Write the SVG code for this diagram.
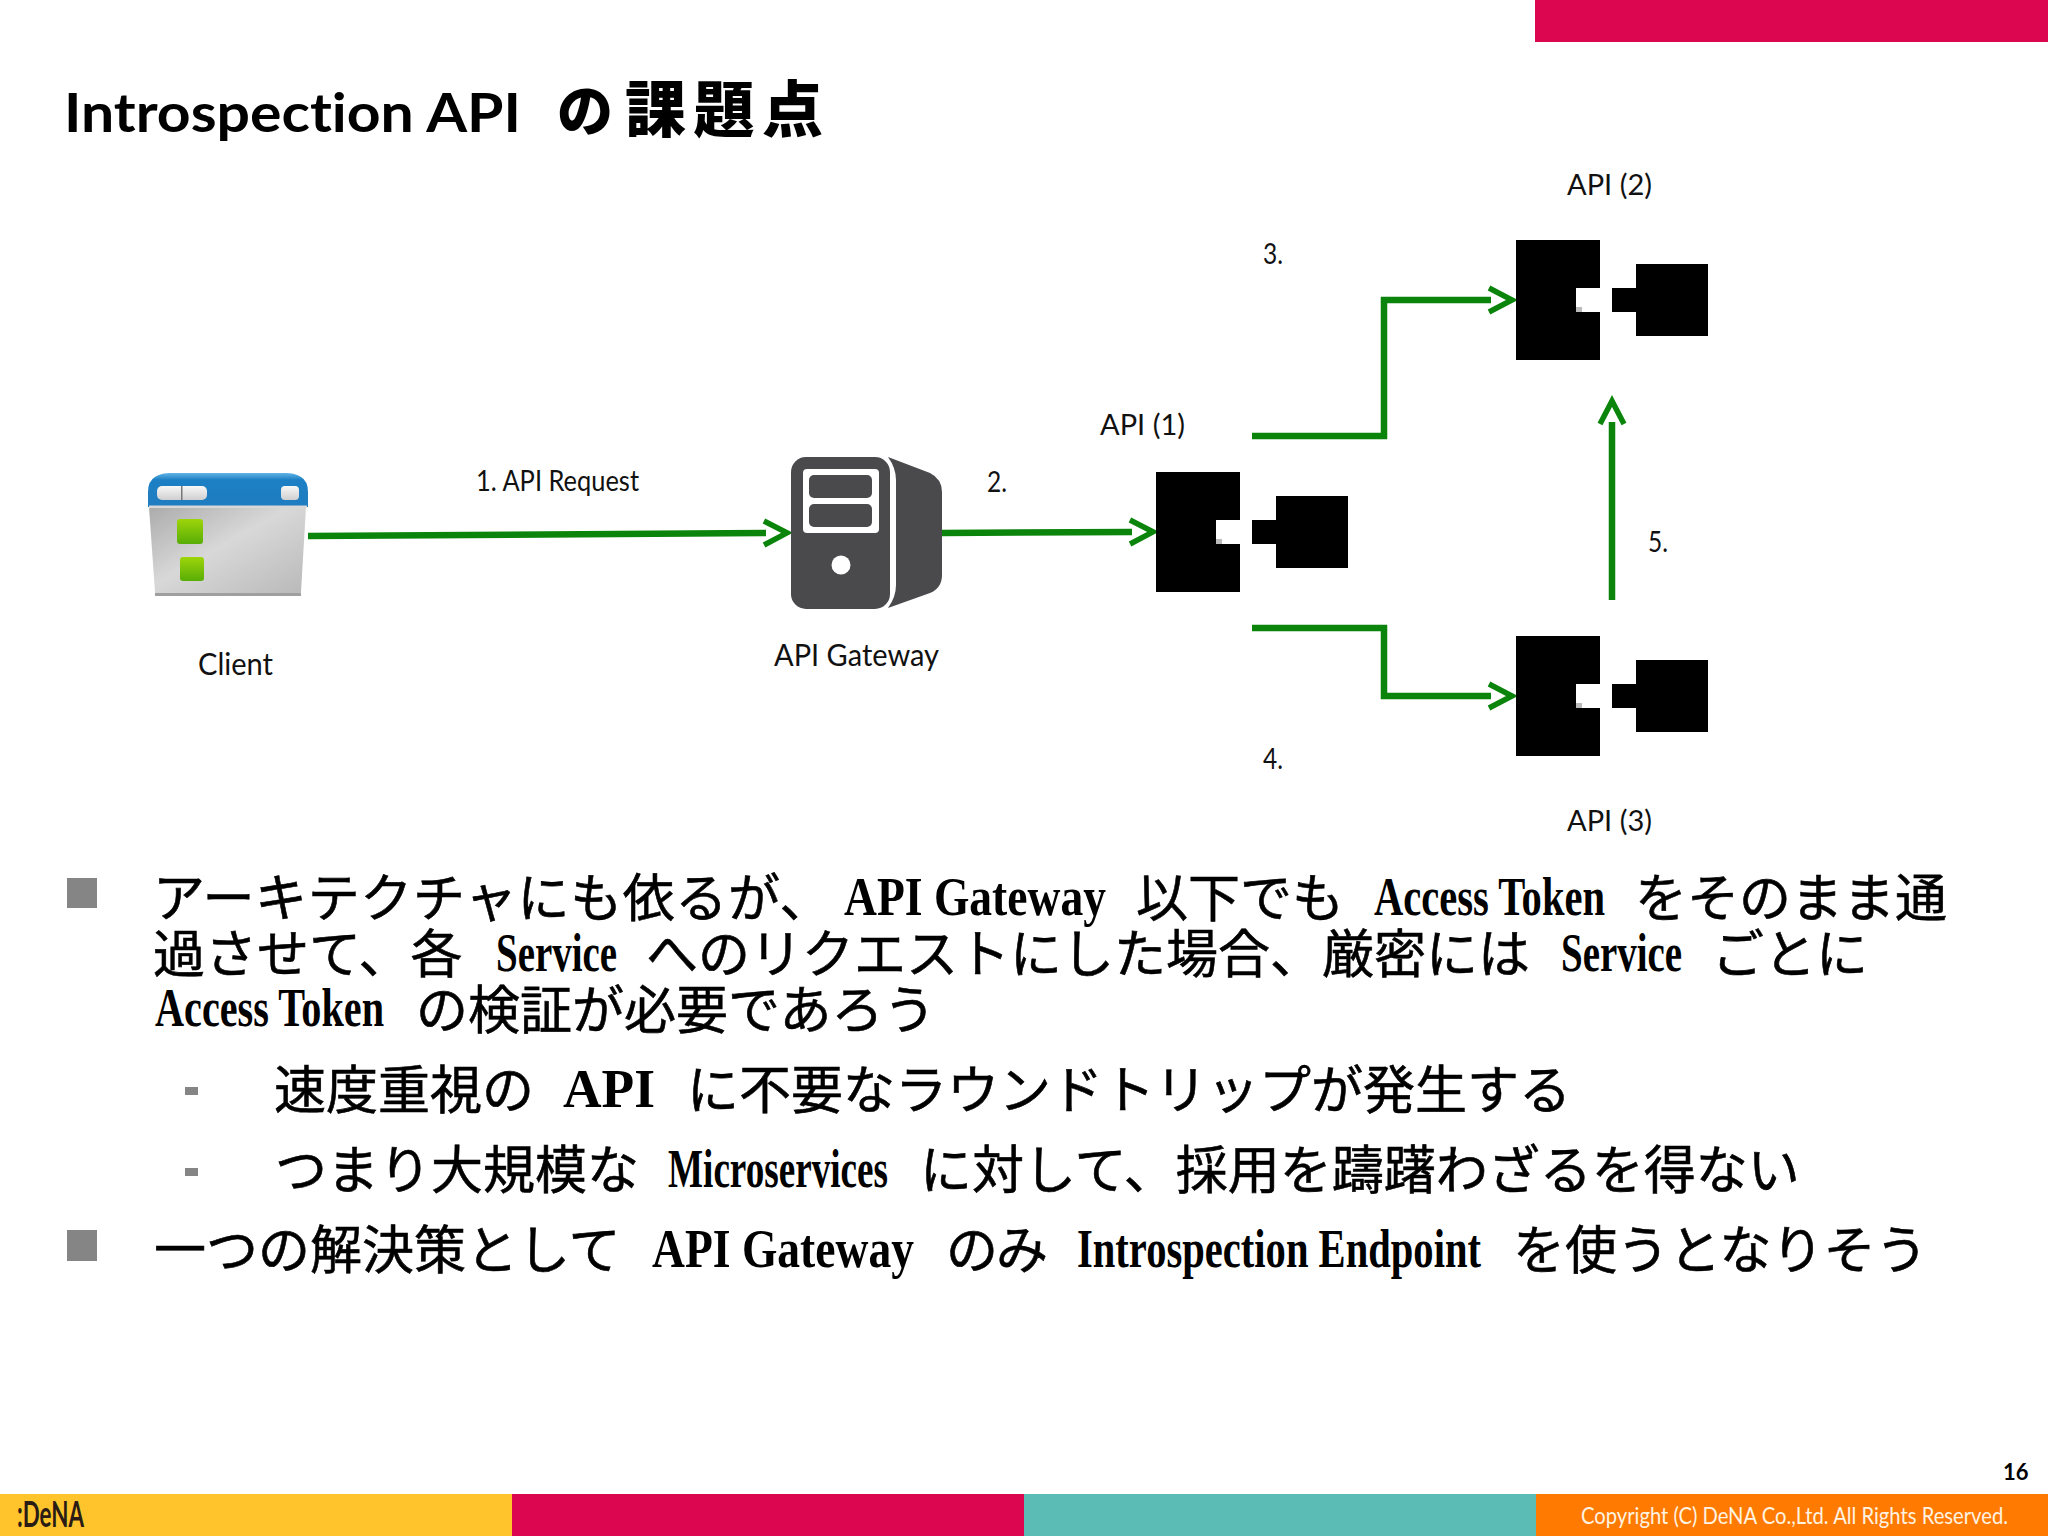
<svg xmlns="http://www.w3.org/2000/svg" width="2048" height="1536" viewBox="0 0 2048 1536">
<style>
text{font-variant-ligatures:none}
.lb{font-family:"Lato","Liberation Sans",sans-serif;font-size:28px;fill:#111}
.lg{font-size:30px}
.t{font-family:"Noto Sans CJK JP",sans-serif;font-size:52px;fill:#000;stroke:#000;stroke-width:.6px}
.f{font-family:"Liberation Serif",serif;font-weight:bold;font-size:54px;fill:#000}
.ti{font-family:"Lato","Liberation Sans",sans-serif;font-weight:700;font-size:53px;fill:#000}
.tj{font-family:"Noto Sans CJK JP",sans-serif;font-weight:900;font-size:61px;fill:#000}
.blk{fill:#000}
.srv{fill:#4a4a4c}
.conn{fill:none;stroke:#0a840a;stroke-width:6.5;marker-end:url(#ah)}
.bb{fill:#858585}
</style>
<defs>
<marker id="ah" markerUnits="userSpaceOnUse" markerWidth="32" markerHeight="32" refX="0" refY="0" orient="auto" viewBox="-4 -16 32 32" overflow="visible">
<path d="M-2,-12 L21,0 L-2,12" fill="none" stroke="#0a840a" stroke-width="5.5"/>
</marker>
<linearGradient id="gb" x1="0" y1="0" x2="0" y2="1"><stop offset="0" stop-color="#62b4e6"/><stop offset=".2" stop-color="#1d80c4"/><stop offset="1" stop-color="#1f7cc0"/></linearGradient>
<linearGradient id="gg" x1="0" y1="0" x2="1" y2="1"><stop offset="0" stop-color="#ababab"/><stop offset=".45" stop-color="#d8d8d8"/><stop offset="1" stop-color="#b8b8b8"/></linearGradient>
<linearGradient id="gn" x1="0" y1="0" x2="0" y2="1"><stop offset="0" stop-color="#9ed50a"/><stop offset="1" stop-color="#58ad06"/></linearGradient>
<linearGradient id="gw" x1="0" y1="0" x2="0" y2="1"><stop offset="0" stop-color="#f8f8f8"/><stop offset="1" stop-color="#cfcfcf"/></linearGradient>
<g id="api">
<path class="blk" d="M0,0H84V48H60V72H84V120H0Z"/>
<rect x="60" y="67" width="6" height="5" fill="#bbb"/>
<path class="blk" d="M96,48H120V24H192V96H120V72H96Z"/>
</g>
</defs>
<rect width="2048" height="1536" fill="#fff"/>
<rect id="banner" x="1535" y="0" width="513" height="42" fill="#dc0550"/>
<g id="title">
<text class="ti" x="64" y="132" textLength="457" lengthAdjust="spacingAndGlyphs">Introspection API</text>
<text class="tj" x="557" y="131" style="font-size:56px">の</text>
<text class="tj" x="625" y="132" style="letter-spacing:7.5px">課題点</text>
</g>
<g id="connectors">
<path class="conn" d="M308,536 L766,533"/>
<path class="conn" d="M942,533 L1132,532"/>
<path class="conn" d="M1252,436 H1384 V300 H1491"/>
<path class="conn" d="M1252,628 H1384 V696 H1491"/>
<path class="conn" d="M1612,600 V422"/>
</g>
<g id="client">
<path d="M149,507 H306 L301,592 Q301,596 297,596 H159 Q155,596 155,592Z" fill="url(#gg)"/>
<rect x="155" y="593" width="146" height="3" fill="#9f9f9f"/>
<path d="M148,507 V492 Q148,481 155,477 Q161,473 170,473 H286 Q295,473 301,477 Q308,481 308,492 V507Z" fill="url(#gb)"/>
<rect x="149" y="505.500" width="158" height="2.500" fill="#d8d8d8"/>
<rect x="157" y="486" width="50" height="14" rx="5" fill="url(#gw)"/>
<rect x="181" y="486" width="1.500" height="14" fill="#777"/>
<rect x="281" y="486" width="18" height="14" rx="4" fill="url(#gw)"/>
<rect x="177" y="519" width="26" height="25" rx="3" fill="url(#gn)"/>
<rect x="180" y="557" width="24" height="24" rx="3" fill="url(#gn)"/>
<text class="lb lg" x="198" y="675" textLength="75" lengthAdjust="spacingAndGlyphs">Client</text>
</g>
<g id="api-gateway">
<rect class="srv" x="791" y="457" width="99" height="152" rx="15"/>
<path class="srv" d="M888,457 L930,473 Q942,479 942,492 V575 Q942,588 930,593 L888,608 Q896,597 896,585 V480 Q896,468 888,457Z"/>
<rect x="803" y="469" width="76" height="64" rx="4" fill="#fff"/>
<rect class="srv" x="809" y="475" width="63" height="23" rx="5"/>
<rect class="srv" x="809" y="504" width="63" height="23" rx="5"/>
<circle cx="841" cy="565" r="9.500" fill="#fff"/>
<text class="lb lg" x="774" y="666" textLength="165" lengthAdjust="spacingAndGlyphs">API Gateway</text>
</g>
<g id="api-1"><use href="#api" x="1156" y="472"/><text class="lb" x="1100" y="435" textLength="85" lengthAdjust="spacingAndGlyphs">API (1)</text></g>
<g id="api-2"><use href="#api" x="1516" y="240"/><text class="lb" x="1567" y="195" textLength="85" lengthAdjust="spacingAndGlyphs">API (2)</text></g>
<g id="api-3"><use href="#api" x="1516" y="636"/><text class="lb" x="1567" y="831" textLength="85" lengthAdjust="spacingAndGlyphs">API (3)</text></g>
<g id="connector-labels">
<text class="lb" x="476" y="491" textLength="163" lengthAdjust="spacingAndGlyphs">1. API Request</text>
<text class="lb" x="987" y="492" textLength="20" lengthAdjust="spacingAndGlyphs">2.</text>
<text class="lb" x="1263" y="264" textLength="20" lengthAdjust="spacingAndGlyphs">3.</text>
<text class="lb" x="1263" y="769" textLength="20" lengthAdjust="spacingAndGlyphs">4.</text>
<text class="lb" x="1648" y="552" textLength="20" lengthAdjust="spacingAndGlyphs">5.</text>
</g>
<g id="body">
<rect class="bb" x="67" y="878" width="30" height="30"/>
<text class="t" x="153" y="917" style="letter-spacing:.6px">アーキテクチャにも依るが、</text>
<text class="f" x="844" y="915" textLength="262" lengthAdjust="spacingAndGlyphs">API Gateway</text>
<text class="t" x="1136" y="917">以下でも</text>
<text class="f" x="1374" y="915" textLength="231" lengthAdjust="spacingAndGlyphs">Access Token</text>
<text class="t" x="1635" y="917">をそのまま通</text>
<text class="t" x="153" y="973">過させて、各</text>
<text class="f" x="496" y="971" textLength="121" lengthAdjust="spacingAndGlyphs">Service</text>
<text class="t" x="646" y="973">へのリクエストにした場合、厳密には</text>
<text class="f" x="1561" y="971" textLength="121" lengthAdjust="spacingAndGlyphs">Service</text>
<text class="t" x="1712" y="973">ごとに</text>
<text class="f" x="155" y="1026" textLength="229" lengthAdjust="spacingAndGlyphs">Access Token</text>
<text class="t" x="416" y="1029">の検証が必要であろう</text>
<rect class="bb" x="185" y="1087" width="13" height="8"/>
<text class="t" x="274" y="1109">速度重視の</text>
<text class="f" x="563" y="1107" textLength="92" lengthAdjust="spacingAndGlyphs">API</text>
<text class="t" x="687" y="1109">に不要なラウンドトリップが発生する</text>
<rect class="bb" x="185" y="1168" width="13" height="8"/>
<text class="t" x="275" y="1189">つまり大規模な</text>
<text class="f" x="668" y="1187" textLength="220" lengthAdjust="spacingAndGlyphs">Microservices</text>
<text class="t" x="920" y="1189">に対して、採用を躊躇わざるを得ない</text>
<rect class="bb" x="67" y="1230" width="30" height="31"/>
<text class="t" x="154" y="1269">一つの解決策として</text>
<text class="f" x="652" y="1267" textLength="262" lengthAdjust="spacingAndGlyphs">API Gateway</text>
<text class="t" x="946" y="1269" style="letter-spacing:-2px">のみ</text>
<text class="f" x="1077" y="1267" textLength="404" lengthAdjust="spacingAndGlyphs">Introspection Endpoint</text>
<text class="t" x="1513" y="1269">を使うとなりそう</text>
</g>
<g id="footer">
<rect x="0" y="1494" width="512" height="42" fill="#ffc42c"/>
<rect x="512" y="1494" width="512" height="42" fill="#dc0550"/>
<rect x="1024" y="1494" width="512" height="42" fill="#5bbbb5"/>
<rect x="1536" y="1494" width="512" height="42" fill="#ff7a00"/>
<text x="17" y="1527" textLength="67" lengthAdjust="spacingAndGlyphs" style="font-family:'Lato',sans-serif;font-weight:700;font-size:36px;fill:#2a1c14">:DeNA</text>
<text x="1581" y="1524" textLength="427" lengthAdjust="spacingAndGlyphs" style="font-family:'Lato',sans-serif;font-size:23px;fill:#fff2e0">Copyright (C) DeNA Co.,Ltd. All Rights Reserved.</text>
<text x="2003" y="1480" style="font-family:'Lato',sans-serif;font-weight:700;font-size:22px;fill:#000">16</text>
</g>
</svg>
